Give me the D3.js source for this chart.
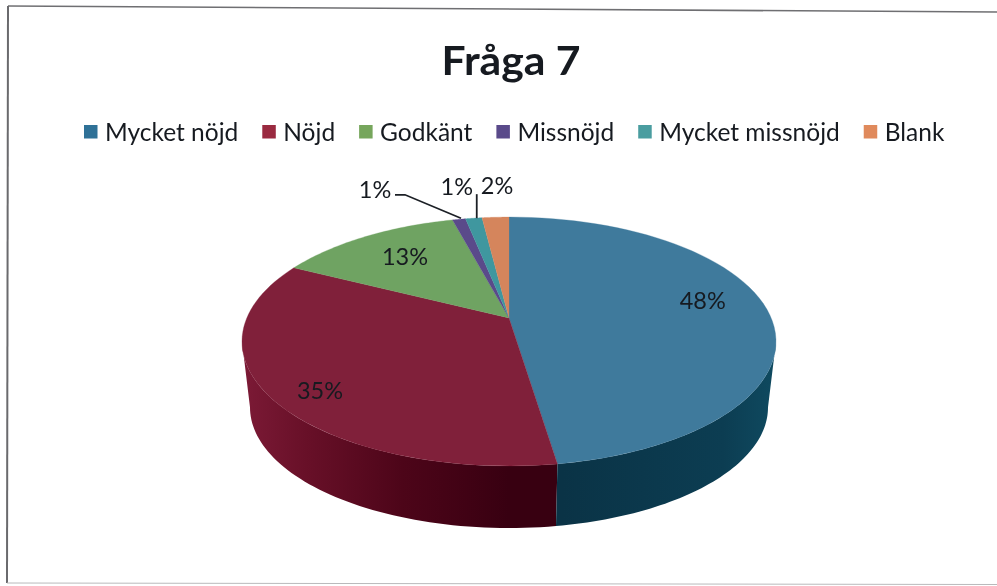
<!DOCTYPE html>
<html><head><meta charset="utf-8">
<script src="https://cdn.jsdelivr.net/npm/d3@7"></script>
<style>html,body{margin:0;padding:0;background:#fff}svg{display:block;filter:blur(0.45px)}text{font-family:Lato,"Open Sans",sans-serif;fill:#161a20}</style>
</head><body><svg id="c" width="997" height="586"></svg>
<script>
const titleText = "Fråga 7";
const categories = ["Mycket nöjd","Nöjd","Godkänt","Missnöjd","Mycket missnöjd","Blank"];
const values = [47.6,34.9,13.4,0.95,1.2,1.95];
const legendColors = ["#2f7197","#9a2a40","#76a65c","#5a4a8a","#4a9da0","#e08a5c"];
const topColors = ["#3f7a9c","#80203a","#6fa362","#5a4a8a","#3f979f","#d5855c"];
const labelOffsets = [[-64,-8],[50,-6],[39.5,20],[-84,-29.5],[-17,-31],[1.5,-31]];

const svg = d3.select("#c");
const cx=509, cy=318, A=262.2, B=120, k=0.189, cyB=384.5, shrink=0.97;
const project=(t,r=1,oy=cy,sc=1)=>{const d=1+k*r*Math.cos(t);return [cx+sc*A*r*Math.sin(t)/d, oy-sc*B*r*Math.cos(t)/d];};
const arcPts=(a0,a1,oy,sc)=>d3.range(0,61).map(i=>project(a0+(a1-a0)*i/60,1,oy,sc));
const line=d3.line();
const pie=d3.pie().sort(null).value(d=>d)(values);
const tangent=Math.acos(-k); // rim is widest here, the visible wall runs between the two tangents

// frame
svg.append("line").attr("x1",8).attr("y1",6).attr("x2",997).attr("y2",12).attr("stroke","#6f6f72").attr("stroke-width",1.6);
svg.append("line").attr("x1",8).attr("y1",6).attr("x2",7).attr("y2",583).attr("stroke","#6a6a6d").attr("stroke-width",2);
svg.append("line").attr("x1",7).attr("y1",583).attr("x2",997).attr("y2",584.5).attr("stroke","#b9b9bb").attr("stroke-width",1);

const defs=svg.append("defs");
const grad=(id,stops)=>{const g=defs.append("linearGradient").attr("id",id).attr("gradientUnits","userSpaceOnUse").attr("x1",cx-A-5).attr("x2",cx+A+5).attr("y1",0).attr("y2",0);
  stops.forEach(([o,c])=>g.append("stop").attr("offset",o).attr("stop-color",c));};
grad("wall0",[[0,"#0a3346"],[0.6,"#0a3346"],[0.9,"#0c3d52"],[1,"#0f4a60"]]);
grad("wall1",[[0,"#7c1a36"],[0.12,"#681028"],[0.3,"#4d0519"],[0.5,"#380011"],[1,"#380011"]]);

// side wall
[1,0].forEach(i=>{const p=pie[i];
  const a0=Math.max(p.startAngle,tangent), a1=Math.min(p.endAngle,2*Math.PI-tangent);
  const pts=arcPts(a0,a1,cy,1).concat(arcPts(a1,a0,cyB,shrink));
  svg.append("path").attr("d",line(pts)+"Z").attr("fill",`url(#wall${i})`);
});
// top face
pie.forEach((p,i)=>{
  svg.append("path").attr("d",line([[cx,cy]].concat(arcPts(p.startAngle,p.endAngle,cy,1)))+"Z")
    .attr("fill",topColors[i]).attr("stroke",topColors[i]).attr("stroke-width",0.3);
});

// labels + leaders
const fmt=d3.format(".0%");
pie.forEach((p,i)=>{
  const [rx,ry]=project((p.startAngle+p.endAngle)/2);
  const [ox,oy]=labelOffsets[i];
  svg.append("text").attr("x",rx+ox).attr("y",ry+oy).attr("dy","0.35em").attr("text-anchor","middle")
    .attr("font-size",23.5).text(fmt(p.value/100));
  if(i===3) svg.append("path").attr("d",line([[rx+ox+20,ry+oy+5],[rx+ox+30,ry+oy+5],[rx+2,ry-1]])).attr("fill","none").attr("stroke","#1c2026").attr("stroke-width",1.8);
  if(i===4) svg.append("path").attr("d",line([[rx+3,ry+oy+7],[rx+3,ry]])).attr("fill","none").attr("stroke","#1c2026").attr("stroke-width",1.8);
});

// title
svg.append("text").attr("x",511).attr("y",75).attr("text-anchor","middle").attr("font-size",41).attr("font-weight",700)
  .attr("textLength",139).attr("lengthAdjust","spacingAndGlyphs").text(titleText);

// legend
let lx=84;
categories.forEach((c,i)=>{
  svg.append("rect").attr("x",lx).attr("y",125).attr("width",13.5).attr("height",13.5).attr("fill",legendColors[i]);
  const t=svg.append("text").attr("x",lx+21).attr("y",141).attr("font-size",24.5).text(c);
  lx+=21+t.node().getComputedTextLength()+24;
});
</script></body></html>
